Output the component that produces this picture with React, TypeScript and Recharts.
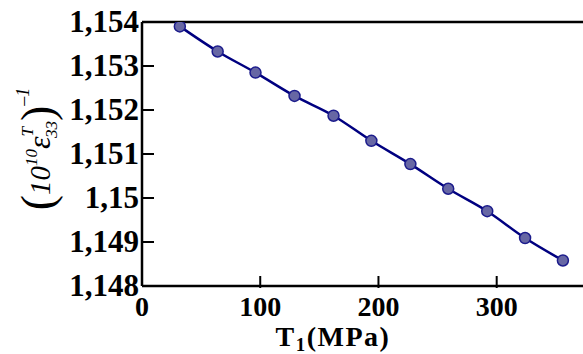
import { LineChart, Line, XAxis, YAxis, ReferenceLine } from "recharts"

// stress T1 (MPa)
const stress = [32, 64, 96, 129, 162, 194, 227, 259, 292, 324, 356]
// inverse permittivity (10^10 eps33^T)^-1
const invPermittivity = [
  1.1539, 1.15333, 1.15285, 1.15232, 1.15187, 1.1513, 1.15077, 1.15021, 1.1497, 1.14909, 1.14858,
]
const yTicks = [1.148, 1.149, 1.15, 1.151, 1.152, 1.153, 1.154]
const xTicks = [0, 100, 200, 300]

const data = stress.map((t, i) => ({ t, v: invPermittivity[i] }))

const FONT = "'Liberation Serif', 'Times New Roman', serif"

// y tick labels use a comma decimal separator
const fmtY = (v: number) => String(Number(v.toFixed(3))).replace(".", ",")

const YTick = (props: any) => {
  const { x, y, payload } = props
  return (
    <g>
      <line x1={x + 4} x2={x + 16} y1={y} y2={y} stroke="#000" strokeWidth={2} />
      <text
        x={x + 1}
        y={y}
        dy={10}
        textAnchor="end"
        fontFamily={FONT}
        fontWeight="bold"
        fontSize={31}
        fill="#000"
      >
        {fmtY(payload.value)}
      </text>
    </g>
  )
}

const XTick = (props: any) => {
  const { x, y, payload } = props
  return (
    <g>
      {payload.value !== 0 && (
        <line x1={x} x2={x} y1={y - 12} y2={y} stroke="#000" strokeWidth={2} />
      )}
      <text
        x={x}
        y={y}
        dy={28}
        textAnchor="middle"
        fontFamily={FONT}
        fontWeight="bold"
        fontSize={28}
        fill="#000"
      >
        {payload.value}
      </text>
    </g>
  )
}

const App = () => {
  return (
    <div style={{ position: "absolute", left: 0, top: 0, width: 583, height: 354, background: "#fff" }}>
      <LineChart width={583} height={354} data={data} margin={{ top: 22, right: 0, bottom: 0, left: 0 }}>
        <XAxis
          dataKey="t"
          type="number"
          domain={[0, 373]}
          ticks={xTicks}
          tick={<XTick />}
          tickLine={false}
          tickSize={0}
          height={68}
          axisLine={{ stroke: "#000", strokeWidth: 2.5 }}
          allowDataOverflow
        />
        <YAxis
          type="number"
          domain={[1.148, 1.154]}
          ticks={yTicks}
          tick={<YTick />}
          tickLine={false}
          tickSize={0}
          tickMargin={4}
          width={142}
          axisLine={{ stroke: "#000", strokeWidth: 2.5 }}
          allowDataOverflow
        />
        <ReferenceLine y={1.154} stroke="#000" strokeWidth={2.5} />
        <Line
          type="monotone"
          dataKey="v"
          stroke="#000080"
          strokeWidth={2.5}
          dot={{ r: 5.5, fill: "#6767a4", stroke: "#1c1c8c", strokeWidth: 1.5 }}
          isAnimationActive={false}
        />
        <text
          x={333}
          y={346}
          textAnchor="middle"
          fontFamily={FONT}
          fontWeight="bold"
          fontSize={28}
          letterSpacing={1.5}
          fill="#000"
        >
          T
          <tspan fontSize={19} dy={5}>1</tspan>
          <tspan fontSize={28} dy={-5}>(MPa)</tspan>
        </text>
        <text
          x={50}
          y={149}
          transform="rotate(-90, 50, 149)"
          textAnchor="middle"
          fontFamily={FONT}
          fill="#000"
        >
          <tspan fontSize={46} dy={3}>(</tspan>
          <tspan fontSize={29} fontStyle="italic" dy={-3}>10</tspan>
          <tspan fontSize={17} fontStyle="italic" dy={-13}>10</tspan>
          <tspan fontSize={32} fontStyle="italic" dy={13}>ε</tspan>
          <tspan fontSize={17} fontStyle="italic" dy={-17}>T</tspan>
          <tspan fontSize={17} fontStyle="italic" dx={-11} dy={24}>33</tspan>
          <tspan fontSize={46} dy={-4}>)</tspan>
          <tspan fontSize={18} fontStyle="italic" dy={-24}>–1</tspan>
        </text>
      </LineChart>
    </div>
  )
}

export default App
